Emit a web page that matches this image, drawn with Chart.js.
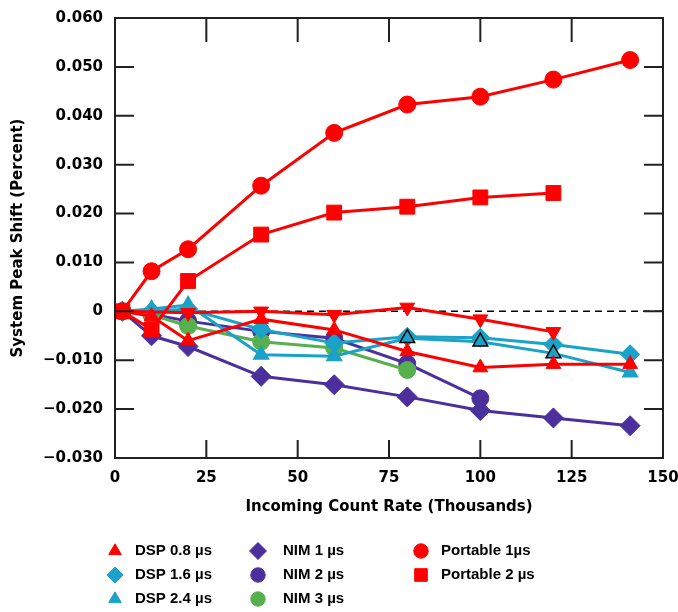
<!DOCTYPE html>
<html>
<head>
<meta charset="utf-8">
<script src="https://cdn.jsdelivr.net/npm/chart.js@4.4.0/dist/chart.umd.min.js"></script>
<style>
  body { margin: 0; background: #fff; }
  #wrap { width: 678px; height: 612px; }
</style>
</head>
<body>
<div id="wrap"><canvas id="peakShiftChart" width="678" height="612"></canvas></div>
<script>
// incoming count rate (thousands)
const countRate = [2, 10, 20, 40, 60, 80, 100, 120, 141];

// system peak shift (percent)
const dsp08 = [0, -0.001, -0.006, -0.0016, -0.0038, -0.0082, -0.0115, -0.0108, -0.0108];
const dsp08b = [0, null, -0.0003, 0, -0.0007, 0.0008, -0.0016, -0.0042];
const dsp16 = [0, 0, 0.0005, -0.0037, -0.0065, -0.0052, -0.0054, -0.0068, -0.0088];
const dsp24 = [0, 0.0005, 0.0013, -0.0089, -0.0092, -0.0055, -0.0062, -0.0086, -0.0125];
const nim1 = [0, -0.005, -0.0072, -0.0133, -0.015, -0.0175, -0.0203, -0.0218, -0.0234];
const nim2 = [0, -0.0006, -0.002, -0.0041, -0.0055, -0.0107, -0.0178];
const nim3 = [0, -0.0007, -0.003, -0.0062, -0.0075, -0.012];
const portable1 = [0, 0.0082, 0.0127, 0.0257, 0.0365, 0.0423, 0.0439, 0.0474, 0.0514];
const portable2 = [0, -0.0037, 0.0062, 0.0157, 0.0202, 0.0214, 0.0233, 0.0242];

const xTicks = [0, 25, 50, 75, 100, 125, 150];
const yTicks = [-0.03, -0.02, -0.01, 0, 0.01, 0.02, 0.03, 0.04, 0.05, 0.06];
const yTickLabels = ["\u22120.030", "\u22120.020", "\u22120.010", "0", "0.010", "0.020", "0.030", "0.040", "0.050", "0.060"];

const RED = "#ff0000";
const CYAN = "#1aa2c8";
const PURPLE = "#4b2f9c";
const GREEN = "#57b04e";
const AXIS_FONT = "'DejaVu Sans', sans-serif";
const LEGEND_FONT = "'Liberation Sans', Arial, sans-serif";

const pts = (ys) => ys.map((y, i) => ({ x: countRate[i], y: y })).filter((p) => p.y !== null);

function series(label, ys, color, style, radius, extra) {
  return Object.assign({
    label: label,
    data: pts(ys),
    borderColor: color,
    backgroundColor: color,
    pointBackgroundColor: color,
    pointBorderColor: color,
    borderWidth: 3,
    pointStyle: style,
    pointRadius: radius,
    pointBorderWidth: 1,
    spanGaps: true,
    showLine: true,
  }, extra || {});
}

// black outlined triangles on the DSP 2.4 line
const dsp24Border = dsp24.map((v, i) => (i >= 5 && i <= 7 ? "#000" : CYAN));

const datasets = [
  series("Portable 1\u00b5s", portable1, RED, "circle", 8.5),
  series("Portable 2 \u00b5s", portable2, RED, "rect", 10.5),
  series("DSP 0.8 \u00b5s", dsp08, RED, "triangle", 8.5),
  series("DSP 0.8 \u00b5s (b)", dsp08b, RED, "triangle", 8.5, { rotation: 180 }),
  series("DSP 2.4 \u00b5s", dsp24, CYAN, "triangle", 8.5, { pointBorderColor: dsp24Border, pointBorderWidth: 1.5 }),
  series("DSP 1.6 \u00b5s", dsp16, CYAN, "rectRot", 9.5),
  series("NIM 3 \u00b5s", nim3, GREEN, "circle", 8.5),
  series("NIM 2 \u00b5s", nim2, PURPLE, "circle", 8.5),
  series("NIM 1 \u00b5s", nim1, PURPLE, "rectRot", 10),
];

// legend columns (labels of datasets)
const legendCols = [
  ["DSP 0.8 \u00b5s", "DSP 1.6 \u00b5s", "DSP 2.4 \u00b5s"],
  ["NIM 1 \u00b5s", "NIM 2 \u00b5s", "NIM 3 \u00b5s"],
  ["Portable 1\u00b5s", "Portable 2 \u00b5s"],
];

const frameAndTicks = {
  id: "frameAndTicks",
  beforeDatasetsDraw(chart) {
    const { ctx, chartArea: a, scales } = chart;
    const y0 = scales.y.getPixelForValue(0);
    ctx.save();
    ctx.strokeStyle = "#000";
    ctx.lineWidth = 1.5;
    ctx.setLineDash([7, 5]);
    ctx.beginPath();
    ctx.moveTo(a.left, y0);
    ctx.lineTo(a.right, y0);
    ctx.stroke();
    ctx.restore();
  },
  afterDraw(chart) {
    const { ctx, chartArea: a, scales } = chart;
    ctx.save();
    ctx.strokeStyle = "#222";
    ctx.lineWidth = 2;
    ctx.strokeRect(a.left, a.top, a.right - a.left, a.bottom - a.top);
    ctx.beginPath();
    xTicks.slice(1, -1).forEach((v) => {
      const px = scales.x.getPixelForValue(v);
      ctx.moveTo(px, a.bottom); ctx.lineTo(px, a.bottom - 18);
      ctx.moveTo(px, a.top); ctx.lineTo(px, a.top + 24);
    });
    yTicks.slice(1, -1).forEach((v) => {
      const py = scales.y.getPixelForValue(v);
      ctx.moveTo(a.left, py); ctx.lineTo(a.left + 19, py);
      ctx.moveTo(a.right, py); ctx.lineTo(a.right - 19, py);
    });
    ctx.stroke();

    // legend
    const colX = [115, 258, 421];
    const rowY = [551, 575, 599];
    ctx.font = "bold 15px " + LEGEND_FONT;
    ctx.textBaseline = "middle";
    ctx.fillStyle = "#000";
    legendCols.forEach((col, c) => {
      col.forEach((label, r) => {
        const ds = chart.data.datasets.find((d) => d.label === label);
        ctx.save();
        ctx.fillStyle = ds.backgroundColor;
        ctx.strokeStyle = ds.backgroundColor;
        ctx.lineWidth = 1;
        Chart.helpers.drawPoint(ctx, {
          pointStyle: ds.pointStyle,
          radius: ds.pointRadius * 0.85,
          rotation: 0,
          borderWidth: 1,
        }, colX[c], rowY[r]);
        ctx.restore();
        ctx.fillText(label, colX[c] + 20 + (c === 1 ? 5 : 0), rowY[r]);
      });
    });
    ctx.restore();
  },
};

new Chart(document.getElementById("peakShiftChart"), {
  type: "line",
  data: { datasets: datasets },
  options: {
    responsive: false,
    animation: false,
    layout: { padding: { top: 18, right: 15, left: 0, bottom: 0 } },
    plugins: { legend: { display: false }, tooltip: { enabled: false } },
    elements: { line: { tension: 0 } },
    scales: {
      x: {
        type: "linear",
        min: 0,
        max: 150,
        afterBuildTicks: (s) => { s.ticks = xTicks.map((v) => ({ value: v })); },
        afterFit: (s) => { s.height = 154; s.paddingLeft = 0; s.paddingRight = 0; },
        grid: { display: false, drawTicks: false },
        border: { display: false },
        ticks: { color: "#000", padding: 11, font: { family: AXIS_FONT, size: 15, weight: "bold" } },
        title: {
          display: true,
          text: "Incoming Count Rate (Thousands)",
          color: "#000",
          font: { family: AXIS_FONT, size: 15, weight: "bold" },
          padding: { top: 0, bottom: 96 },
        },
      },
      y: {
        min: -0.03,
        max: 0.06,
        afterBuildTicks: (s) => { s.ticks = yTicks.map((v) => ({ value: v })); },
        afterFit: (s) => { s.width = 115; s.paddingTop = 0; s.paddingBottom = 0; },
        grid: { display: false, drawTicks: false },
        border: { display: false },
        ticks: {
          color: "#000",
          padding: 12,
          font: { family: AXIS_FONT, size: 15, weight: "bold" },
          callback: (v, i) => yTickLabels[i],
        },
        title: {
          display: true,
          text: "System Peak Shift (Percent)",
          color: "#000",
          font: { family: AXIS_FONT, size: 15, weight: "bold" },
          padding: { top: 9, bottom: 0 },
        },
      },
    },
  },
  plugins: [frameAndTicks],
});
</script>
</body>
</html>
